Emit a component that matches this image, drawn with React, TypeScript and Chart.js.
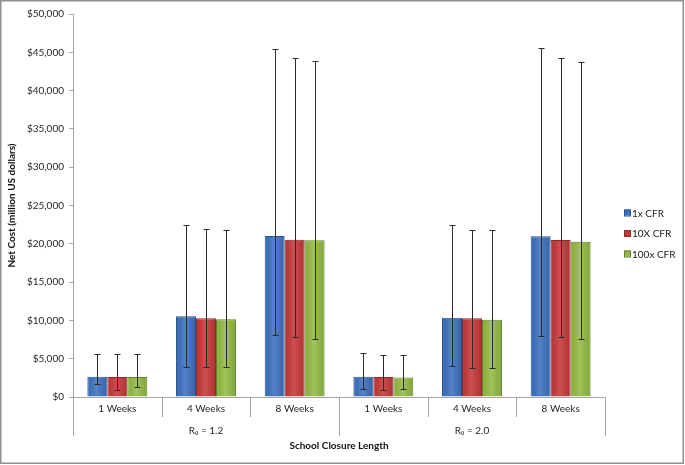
import React, { useEffect, useRef } from "react";
import { Chart, registerables } from "chart.js";

Chart.register(...registerables);

const categories = ["1 Weeks", "4 Weeks", "8 Weeks", "1 Weeks", "4 Weeks", "8 Weeks"];
const groupTickLabels = ["", "R\u2080 = 1.2", "", "", "R\u2080 = 2.0", ""];
const seriesNames = ["1x CFR", "10X CFR", "100x CFR"];

const cfr1 = [2650, 10530, 21020, 2650, 10350, 20980];
const cfr1Low = [1650, 3960, 8090, 1000, 4050, 7960];
const cfr1High = [5650, 22490, 45390, 5780, 22500, 45600];

const cfr10 = [2600, 10270, 20540, 2600, 10280, 20500];
const cfr10Low = [950, 3870, 7790, 900, 3790, 7790];
const cfr10High = [5570, 21930, 44250, 5520, 21800, 44200];

const cfr100 = [2600, 10140, 20450, 2550, 10100, 20280];
const cfr100Low = [1300, 3870, 7570, 1000, 3850, 7530];
const cfr100High = [5650, 21840, 43860, 5440, 21850, 43700];

const yTicksMin = 0;
const yTicksMax = 50000;
const yTicksStep = 5000;

const FONT = "Lato, 'Open Sans', sans-serif";

const fills = ["#3d72c0", "#c6393a", "#94bb44"];
const borders = ["#2b5289", "#8b2a2a", "#617f2c"];
const lows = [cfr1Low, cfr10Low, cfr100Low];
const highs = [cfr1High, cfr10High, cfr100High];

const framePlugin = {
  id: "frame",
  beforeDraw(chart: any) {
    const { ctx, width, height } = chart;
    ctx.save();
    ctx.fillStyle = "#ffffff";
    ctx.fillRect(0, 0, width, height);
    ctx.restore();
  },
  afterDraw(chart: any) {
    const { ctx, width, height } = chart;
    ctx.save();
    ctx.strokeStyle = "#8f8f8f";
    ctx.lineWidth = 1.5;
    ctx.strokeRect(0.75, 0.75, width - 2.5, height - 2.5);
    ctx.restore();
  },
};

const shadePlugin = {
  id: "shade",
  afterDatasetsDraw(chart: any) {
    const ctx = chart.ctx;
    chart.data.datasets.forEach((_: any, di: number) => {
      const meta = chart.getDatasetMeta(di);
      meta.data.forEach((el: any) => {
        const w = el.width;
        const left = el.x - w / 2 + 1;
        const right = el.x + w / 2 - 1;
        const top = Math.min(el.y, el.base) + 1;
        const bottom = Math.max(el.y, el.base) - 1;
        const g = ctx.createLinearGradient(left, 0, right, 0);
        g.addColorStop(0, "rgba(0,0,0,0.06)");
        g.addColorStop(0.45, "rgba(255,255,255,0.12)");
        g.addColorStop(1, "rgba(0,0,0,0.10)");
        ctx.save();
        ctx.fillStyle = g;
        ctx.fillRect(left, top, right - left, bottom - top);
        ctx.restore();
      });
    });
  },
};

const errorBarPlugin = {
  id: "errorBars",
  afterDatasetsDraw(chart: any) {
    const ctx = chart.ctx;
    const y = chart.scales.y;
    ctx.save();
    ctx.strokeStyle = "#2a2a2a";
    ctx.lineWidth = 1;
    chart.data.datasets.forEach((_: any, di: number) => {
      const meta = chart.getDatasetMeta(di);
      meta.data.forEach((el: any, i: number) => {
        const x = Math.round(el.x) + 0.5;
        const yh = Math.round(y.getPixelForValue(highs[di][i])) + 0.5;
        const yl = Math.round(y.getPixelForValue(lows[di][i])) + 0.5;
        ctx.beginPath();
        ctx.moveTo(x, yh);
        ctx.lineTo(x, yl);
        ctx.moveTo(x - 3, yh);
        ctx.lineTo(x + 3, yh);
        ctx.moveTo(x - 3, yl);
        ctx.lineTo(x + 3, yl);
        ctx.stroke();
      });
    });
    ctx.restore();
  },
};

const dividerPlugin = {
  id: "dividers",
  afterDraw(chart: any) {
    const ctx = chart.ctx;
    const x = chart.scales.x;
    const n = categories.length;
    const half = (x.getPixelForValue(1) - x.getPixelForValue(0)) / 2;
    const top = x.top;
    ctx.save();
    ctx.strokeStyle = "#a6a6a6";
    ctx.lineWidth = 1;
    for (let i = 0; i <= n; i++) {
      const px = Math.round(i < n ? x.getPixelForValue(i) - half : x.getPixelForValue(n - 1) + half) + 0.5;
      const len = i % 3 === 0 ? 39 : 20;
      ctx.beginPath();
      ctx.moveTo(px, top);
      ctx.lineTo(px, top + len);
      ctx.stroke();
    }
    ctx.restore();
  },
};

const legendPlugin = {
  id: "customLegend",
  afterDraw(chart: any) {
    const ctx = chart.ctx;
    const x0 = chart.chartArea.right + 19;
    const yStart = 213;
    const gap = 20.5;
    ctx.save();
    ctx.font = `10px ${FONT}`;
    ctx.textBaseline = "middle";
    ctx.textAlign = "left";
    seriesNames.forEach((name, i) => {
      const cy = yStart + i * gap;
      ctx.fillStyle = fills[i];
      ctx.fillRect(x0, cy - 3.5, 6, 6);
      ctx.strokeStyle = borders[i];
      ctx.lineWidth = 1;
      ctx.strokeRect(x0 + 0.5, cy - 3, 6, 6);
      ctx.fillStyle = "#222";
      ctx.fillText(name, x0 + 8, cy + 0.5);
    });
    ctx.restore();
  },
};

export default function App() {
  const canvasRef = useRef<HTMLCanvasElement | null>(null);

  useEffect(() => {
    document.body.style.margin = "0";
    const canvas = canvasRef.current;
    if (!canvas) return;
    const values = [cfr1, cfr10, cfr100];
    const chart = new Chart(canvas, {
      type: "bar",
      data: {
        labels: categories,
        datasets: seriesNames.map((name, i) => ({
          label: name,
          data: values[i],
          backgroundColor: fills[i],
          borderColor: borders[i],
          borderWidth: 1,
          categoryPercentage: 0.676,
          barPercentage: 1,
          xAxisID: "x",
        })),
      },
      options: {
        animation: false,
        responsive: false,
        devicePixelRatio: 1,
        layout: { padding: { top: 14, right: 80, bottom: 0, left: 0 } },
        plugins: {
          legend: { display: false },
          tooltip: { enabled: false },
        },
        scales: {
          x: {
            type: "category",
            position: "bottom",
            weight: 0,
            offset: true,
            grid: { display: false, drawTicks: false, offset: true },
            border: { display: true, color: "#a6a6a6", width: 1 },
            ticks: {
              font: { family: FONT, size: 10 },
              color: "#262626",
              padding: 6,
              maxRotation: 0,
              autoSkip: false,
            },
            afterFit: (s: any) => {
              s.height = 22;
            },
          },
          x2: {
            type: "category",
            position: "bottom",
            weight: 1,
            offset: true,
            labels: groupTickLabels,
            grid: { display: false, drawTicks: false, offset: true },
            border: { display: false },
            ticks: {
              font: { family: FONT, size: 10 },
              color: "#262626",
              padding: 6,
              maxRotation: 0,
              autoSkip: false,
            },
            title: {
              display: true,
              text: "School Closure Length",
              font: { family: FONT, size: 10, weight: "bold" },
              color: "#111",
              padding: { top: 0, bottom: 13 },
            },
            afterFit: (s: any) => {
              s.height = 46;
            },
          },
          y: {
            min: yTicksMin,
            max: yTicksMax,
            grid: {
              drawOnChartArea: false,
              drawTicks: true,
              tickLength: 4,
              color: "#a6a6a6",
            },
            border: { display: true, color: "#a6a6a6", width: 1 },
            ticks: {
              stepSize: yTicksStep,
              font: { family: FONT, size: 10 },
              color: "#262626",
              padding: 5,
              callback: (v: any) => "$" + Number(v).toLocaleString("en-US"),
            },
            title: {
              display: true,
              text: "Net Cost (million US dollars)",
              font: { family: FONT, size: 10, weight: "bold" },
              color: "#111",
              padding: { top: 6, bottom: 0 },
            },
            afterFit: (s: any) => {
              s.width = 73;
            },
          },
        },
      },
      plugins: [framePlugin, shadePlugin, errorBarPlugin, dividerPlugin, legendPlugin],
    });
    return () => chart.destroy();
  }, []);

  return (
    <div style={{ width: 685, height: 465 }}>
      <canvas ref={canvasRef} width={685} height={465} style={{ display: "block" }} />
    </div>
  );
}
